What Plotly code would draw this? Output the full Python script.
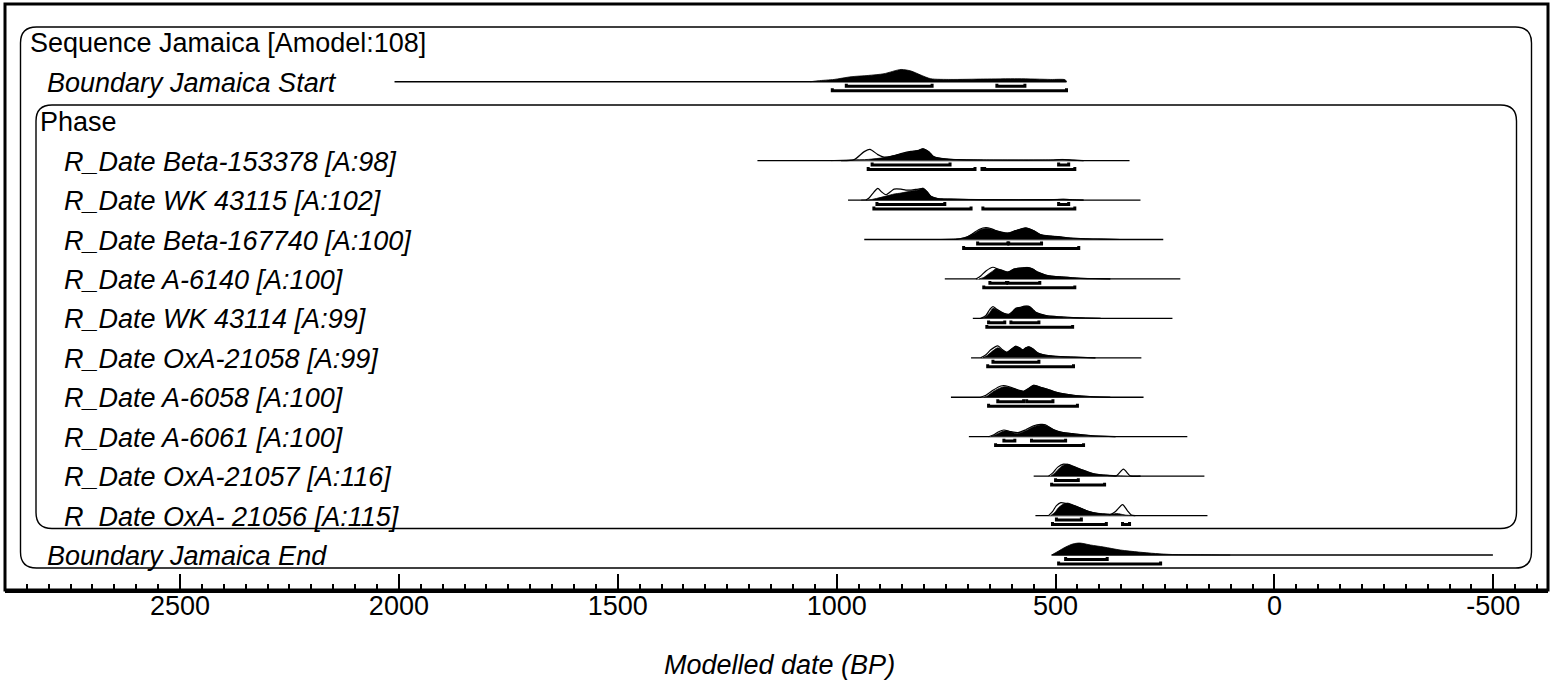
import plotly.graph_objects as go

# ---------------- DATA (calendar years BP) ----------------
row_labels = ["Sequence Jamaica [Amodel:108]", "Boundary Jamaica Start", "Phase",
              "R_Date Beta-153378 [A:98]", "R_Date WK 43115 [A:102]", "R_Date Beta-167740 [A:100]",
              "R_Date A-6140 [A:100]", "R_Date WK 43114 [A:99]", "R_Date OxA-21058 [A:99]",
              "R_Date A-6058 [A:100]", "R_Date A-6061 [A:100]", "R_Date OxA-21057 [A:116]",
              "R_Date OxA- 21056 [A:115]", "Boundary Jamaica End"]
row_italic = [False, True, False, True, True, True, True, True, True, True, True, True, True, True]
row_indent = [0, 1, 1, 2, 2, 2, 2, 2, 2, 2, 2, 2, 2, 1]

major_ticks = [2500, 2000, 1500, 1000, 500, 0, -500]
tick_text = ["2500", "2000", "1500", "1000", "500", "0", "-500"]
axis_title = "Modelled date (BP)"

# Boundary Jamaica Start
bs_line = [2010, 475]
bs_post_x = [1060, 1042, 1006, 967, 928, 892, 853, 830, 808, 785, 739, 664, 586, 511, 478, 475]
bs_post_y = [0, 1, 2.3, 5, 6.3, 8, 12.3, 10.7, 6.7, 3, 2.3, 2.7, 3, 2.3, 2, 0]
bs_r68 = [(978, 782), (634, 570)]
bs_r95 = [(1010, 475)]

# Beta-153378
b1_line = [1181, 331]
b1_post_x = [1013, 967, 928, 892, 860, 830, 814, 803, 789, 778, 755, 723, 664, 511, 484, 459, 436]
b1_post_y = [0, 0.7, 1.2, 3, 6, 9, 10.3, 12, 9, 4, 2, 1, 0.7, 0.7, 1.2, 0.5, 0]
b1_prior_x = [990, 960, 937, 924, 906, 894, 876, 853, 830, 814, 803, 789, 778, 755, 723, 664, 511, 484, 459, 436]
b1_prior_y = [0, 1, 9, 11.3, 6, 3.7, 4, 7, 9.3, 10, 11.5, 8.5, 3.8, 1.8, 0.9, 0.6, 0.6, 1.1, 0.4, 0]
b1_r68 = [(919, 741), (493, 470)]
b1_r95 = [(928, 684), (668, 664), (662, 456)]

# WK 43115
w1_line = [974, 306]
w1_post_x = [944, 921, 887, 869, 853, 830, 814, 803, 794, 785, 769, 739, 664, 511, 482, 461, 436]
w1_post_y = [0, 0.5, 4, 6, 7, 9, 10, 12, 9, 4, 1.5, 1, 0.5, 0.5, 0.8, 0.4, 0]
w1_prior_x = [933, 926, 915, 906, 897, 887, 878, 869, 853, 842, 830, 814, 803, 794, 785, 769, 739, 664, 511, 482, 461, 436]
w1_prior_y = [0, 2, 8, 11.7, 8, 5.3, 8, 11, 11, 10, 10, 11, 11.5, 8.5, 3.8, 1.4, 0.9, 0.4, 0.4, 0.7, 0.3, 0]
w1_r68 = [(908, 753), (493, 470)]
w1_r95 = [(915, 693), (666, 456)]

# Beta-167740
b2_line = [937, 254]
b2_post_x = [762, 733, 717, 701, 682, 671, 655, 637, 609, 591, 568, 550, 534, 511, 495, 466, 431, 397, 352]
b2_post_y = [0, 0.5, 1, 3, 7, 10, 11, 9, 6.5, 9, 11.7, 9, 5, 3.5, 3, 1.5, 0.8, 0.5, 0]
b2_prior_x = [728, 705, 689, 675, 659, 648, 637, 609, 591, 568, 550, 534, 511, 495, 466, 431, 397, 352]
b2_prior_y = [0, 2, 6, 10, 12, 11, 9, 6.3, 8.8, 11.5, 8.8, 4.8, 3.3, 2.8, 1.4, 0.7, 0.4, 0]
b2_r68 = [(678, 609), (607, 532)]
b2_r95 = [(710, 447)]

# A-6140
a1_line = [753, 215]
a1_post_x = [675, 664, 653, 643, 637, 623, 609, 595, 580, 563, 552, 541, 529, 518, 500, 482, 461, 443, 409, 375]
a1_post_y = [0, 1.5, 5, 8, 10, 9, 7, 10, 11, 11.5, 10, 7, 5, 3.5, 2.5, 2, 1.2, 0.7, 0.3, 0]
a1_prior_x = [682, 671, 659, 643, 632, 623, 609, 595, 580, 563, 552, 541, 529, 518, 500, 482, 461, 443, 409, 375]
a1_prior_y = [0, 3, 8, 11.7, 10, 8.5, 6.8, 9.8, 10.8, 11.3, 9.8, 6.8, 4.8, 3.3, 2.4, 1.9, 1.1, 0.6, 0.3, 0]
a1_r68 = [(650, 612), (609, 536)]
a1_r95 = [(664, 456)]

# WK 43114
w2_line = [689, 233]
w2_post_x = [669, 659, 650, 643, 632, 618, 607, 598, 591, 580, 573, 561, 552, 545, 532, 518, 488, 459, 431, 397]
w2_post_y = [0, 2, 6, 10, 8, 5, 4, 7, 10, 11, 12, 12, 9, 6, 4, 2.5, 1.5, 0.8, 0.4, 0]
w2_prior_x = [671, 659, 650, 643, 634, 618, 607, 598, 591, 580, 573, 561, 552, 545, 532, 518, 488, 459, 431, 397]
w2_prior_y = [0, 3, 9, 11.7, 9, 5, 4, 7, 10, 11, 12, 12, 9, 6, 4, 2.5, 1.5, 0.8, 0.4, 0]
w2_r68 = [(653, 616), (602, 538)]
w2_r95 = [(657, 461)]

# OxA-21058
o1_line = [693, 304]
o1_post_x = [666, 657, 646, 632, 621, 611, 600, 591, 582, 575, 568, 561, 552, 541, 527, 511, 488, 443, 409]
o1_post_y = [0, 2, 6, 10, 7.5, 5.5, 9, 11.7, 10, 8, 10, 11, 9, 5, 3, 2, 1.2, 0.5, 0]
o1_prior_x = [671, 659, 648, 632, 621, 611, 600, 591, 582, 575, 568, 561, 552, 541, 527, 511, 488, 443, 409]
o1_prior_y = [0, 3, 8, 12, 8, 5.5, 9, 11.5, 10, 8, 10, 11, 9, 5, 3, 2, 1.2, 0.5, 0]
o1_r68 = [(643, 538)]
o1_r95 = [(655, 459)]

# A-6058
a2_line = [739, 299]
a2_post_x = [664, 655, 641, 625, 614, 598, 584, 573, 561, 550, 534, 518, 502, 488, 459, 431, 413, 375]
a2_post_y = [0, 1.5, 6, 9.5, 10.5, 9, 7, 6, 9, 12, 10, 8, 5.5, 4, 2, 1, 0.5, 0]
a2_prior_x = [671, 659, 643, 625, 614, 602, 584, 573, 561, 550, 534, 518, 502, 488, 459, 431, 413, 375]
a2_prior_y = [0, 2, 7, 11.3, 11.5, 10, 7, 6, 9, 12, 10, 8, 5.5, 4, 2, 1, 0.5, 0]
a2_r68 = [(632, 573), (566, 506)]
a2_r95 = [(653, 450)]

# A-6061
a3_line = [698, 199]
a3_post_x = [648, 637, 625, 614, 600, 586, 568, 550, 529, 516, 504, 482, 461, 443, 420, 397, 363]
a3_post_y = [0, 2, 4.5, 6, 4.5, 3, 6, 10, 12, 10, 7, 4, 3, 2, 1, 0.5, 0]
a3_prior_x = [653, 641, 630, 618, 602, 586, 568, 550, 534, 523, 516, 504, 482, 461, 443, 420, 397, 363]
a3_prior_y = [0, 2, 5, 6.7, 5, 4, 7, 11, 12.3, 12, 10, 7, 4, 3, 2, 1, 0.5, 0]
a3_r68 = [(618, 593), (555, 477)]
a3_r95 = [(637, 436)]

# OxA-21057
o2_line = [550, 160]
o2_post_x = [511, 502, 491, 482, 473, 459, 443, 427, 413, 397, 382, 352, 306]
o2_post_y = [0, 3, 8, 11, 12, 10, 7, 4.5, 2.5, 1.5, 1, 0.3, 0]
o2_prior_x = [516, 507, 495, 482, 470, 459, 443, 427, 413, 397, 382, 361, 345, 329, 306]
o2_prior_y = [0, 3, 9, 12, 11.5, 9.5, 6.8, 4.3, 2.3, 1.3, 0.8, 0.3, 7, 0.2, 0]
o2_r68 = [(500, 448)]
o2_r95 = [(509, 388)]

# OxA-21056
o3_line = [546, 153]
o3_post_x = [511, 502, 493, 484, 473, 459, 445, 429, 413, 397, 382, 370, 361, 352, 341, 318]
o3_post_y = [0, 3, 8, 11, 12.5, 10.5, 8, 5, 3, 2, 1.5, 1.5, 2, 1.5, 0.5, 0]
o3_prior_x = [516, 507, 498, 488, 475, 459, 445, 429, 413, 397, 382, 375, 363, 347, 336, 327, 318]
o3_prior_y = [0, 4, 10, 13, 12, 10, 7.8, 4.8, 2.8, 1.8, 1.3, 1, 4, 11, 5, 0.5, 0]
o3_r68 = [(498, 441)]
o3_r95 = [(507, 384), (347, 331)]

# Boundary Jamaica End
be_line = [509, -499]
be_post_x = [509, 493, 477, 461, 445, 420, 390, 352, 311, 272, 233, 169, 101]
be_post_y = [0, 4, 8, 11, 12, 10, 8, 5, 3, 1.5, 0.5, 0.2, 0]
be_r68 = [(477, 382)]
be_r95 = [(493, 260)]

# rows: (row index, line, post_x, post_y, prior_x, prior_y, r68, r95)
elements = [
    (1, bs_line, bs_post_x, bs_post_y, None, None, bs_r68, bs_r95),
    (3, b1_line, b1_post_x, b1_post_y, b1_prior_x, b1_prior_y, b1_r68, b1_r95),
    (4, w1_line, w1_post_x, w1_post_y, w1_prior_x, w1_prior_y, w1_r68, w1_r95),
    (5, b2_line, b2_post_x, b2_post_y, b2_prior_x, b2_prior_y, b2_r68, b2_r95),
    (6, a1_line, a1_post_x, a1_post_y, a1_prior_x, a1_prior_y, a1_r68, a1_r95),
    (7, w2_line, w2_post_x, w2_post_y, w2_prior_x, w2_prior_y, w2_r68, w2_r95),
    (8, o1_line, o1_post_x, o1_post_y, o1_prior_x, o1_prior_y, o1_r68, o1_r95),
    (9, a2_line, a2_post_x, a2_post_y, a2_prior_x, a2_prior_y, a2_r68, a2_r95),
    (10, a3_line, a3_post_x, a3_post_y, a3_prior_x, a3_prior_y, a3_r68, a3_r95),
    (11, o2_line, o2_post_x, o2_post_y, o2_prior_x, o2_prior_y, o2_r68, o2_r95),
    (12, o3_line, o3_post_x, o3_post_y, o3_prior_x, o3_prior_y, o3_r68, o3_r95),
    (13, be_line, be_post_x, be_post_y, None, None, be_r68, be_r95),
]

# ---------------- LAYOUT CONSTANTS (pixels) ----------------
W, H = 1556, 700
PL, PR, PT, PB = 5, 1548, 4, 590          # plot area in page pixels
X_LEFT, X_RIGHT = 2899.8, -624.9          # axis range (reversed)
ROW0, PITCH = 42.3, 39.44                 # baseline of row 0, row spacing (px)
LABEL_AXIS_PX = 587                       # where the tick-label axis is anchored
FONT = "Liberation Sans, Arial, sans-serif"
FS = 27

def baseline(i):
    return ROW0 + PITCH * i

def px2paper(xp, yp):
    return (xp - PL) / (PR - PL), (PB - yp) / (PB - PT)

fig = go.Figure()

for (row, line, px_, py_, qx, qy, r68, r95) in elements:
    y0 = baseline(row)
    fig.add_trace(go.Scatter(x=line, y=[y0, y0], mode="lines",
                             line=dict(color="black", width=1.3),
                             hoverinfo="skip", showlegend=False))
    if qx is not None:
        fig.add_trace(go.Scatter(x=qx, y=[y0 - v for v in qy], mode="lines",
                                 fill="toself", fillcolor="white",
                                 line=dict(color="black", width=1.2, shape="spline", smoothing=0.7),
                                 hoverinfo="skip", showlegend=False))
    fig.add_trace(go.Scatter(x=px_, y=[y0 - v for v in py_], mode="lines",
                             fill="toself", fillcolor="black",
                             line=dict(color="black", width=0.8, shape="spline", smoothing=0.7),
                             hoverinfo="skip", showlegend=False))
    for off, rngs in ((4.4, r68), (8.9, r95)):
        yb = y0 + off
        for a, b in rngs:
            fig.add_trace(go.Scatter(x=[a, a, b, b], y=[yb - 2.4, yb, yb, yb - 2.4], mode="lines",
                                     line=dict(color="black", width=3),
                                     hoverinfo="skip", showlegend=False))

# invisible trace so that the label axis is drawn
fig.add_trace(go.Scatter(x=[major_ticks[0]], y=[-1000], xaxis="x2", mode="markers",
                         marker=dict(opacity=0), hoverinfo="skip", showlegend=False))

def rounded_box(x0, y0, x1, y1, r):
    def P(x, y):
        u, v = px2paper(x, y)
        return f"{u:.6f},{v:.6f}"
    path = (f"M {P(x0 + r, y0)} L {P(x1 - r, y0)} Q {P(x1, y0)} {P(x1, y0 + r)} "
            f"L {P(x1, y1 - r)} Q {P(x1, y1)} {P(x1 - r, y1)} "
            f"L {P(x0 + r, y1)} Q {P(x0, y1)} {P(x0, y1 - r)} "
            f"L {P(x0, y0 + r)} Q {P(x0, y0)} {P(x0 + r, y0)} Z")
    return dict(type="path", xref="paper", yref="paper", path=path,
                line=dict(color="black", width=1.4), layer="below")

shapes = [
    rounded_box(20.5, 27.0, 1531.5, 568.0, 16),
    rounded_box(36.0, 105.0, 1516.5, 528.5, 16),
    dict(type="rect", xref="paper", yref="paper", x0=0, x1=1, y0=0, y1=1,
         line=dict(color="black", width=3)),
]

annotations = []
for i, (lab, it, ind) in enumerate(zip(row_labels, row_italic, row_indent)):
    xp = {0: 28, 1: 45, 2: 62}[ind]
    if i == 2:
        xp = 38
    txt = f"<i>{lab}</i>" if it else lab
    annotations.append(dict(text=txt, xref="paper", yref="y", x=px2paper(xp, 0)[0], y=baseline(i) + 1,
                            xanchor="left", yanchor="middle", showarrow=False,
                            font=dict(family=FONT, size=FS, color="black")))

annotations.append(dict(text=f"<i>{axis_title}</i>", xref="paper", yref="paper",
                        x=px2paper(779, 0)[0], y=px2paper(0, 665)[1],
                        xanchor="center", yanchor="middle", showarrow=False,
                        font=dict(family=FONT, size=FS, color="black")))

fig.update_layout(
    width=W, height=H,
    margin=dict(l=PL, r=W - PR, t=PT, b=H - PB, pad=0),
    paper_bgcolor="white", plot_bgcolor="white",
    shapes=shapes, annotations=annotations,
    xaxis=dict(range=[X_LEFT, X_RIGHT], tickmode="array", tickvals=major_ticks, ticktext=tick_text,
               ticks="inside", ticklen=16, tickwidth=2, tickcolor="black",
               showline=True, linewidth=3, linecolor="black", mirror=False,
               showgrid=False, zeroline=False, showticklabels=False,
               minor=dict(dtick=50, tick0=0, ticks="inside", ticklen=6, tickwidth=1.5,
                          tickcolor="black", showgrid=False)),
    xaxis2=dict(range=[X_LEFT, X_RIGHT], overlaying="x", anchor="free",
                position=px2paper(0, LABEL_AXIS_PX)[1], side="bottom",
                tickmode="array", tickvals=major_ticks, ticktext=tick_text,
                ticks="", showline=False, showgrid=False, zeroline=False,
                tickfont=dict(family=FONT, size=FS, color="black")),
    yaxis=dict(range=[PB, PT], visible=False, showgrid=False, zeroline=False),
)

fig.write_html("out.html")
